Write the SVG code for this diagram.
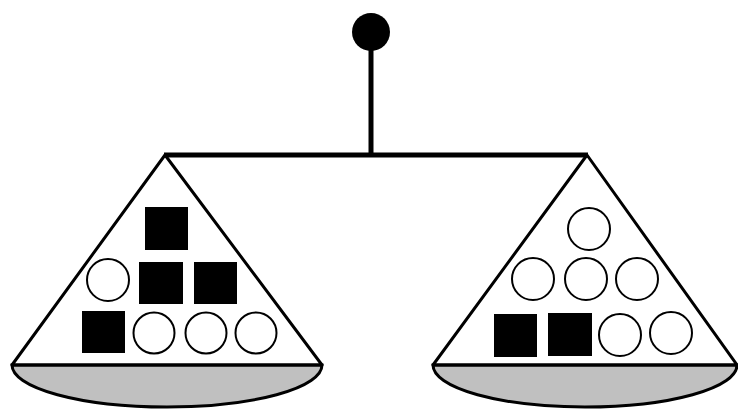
<svg xmlns="http://www.w3.org/2000/svg" width="738" height="410" viewBox="0 0 738 410">
<style>
.ln{stroke:#000;stroke-width:3;fill:none;stroke-linejoin:round}
.bowl{fill:#c0c0c0;stroke:#000;stroke-width:3}
.sq{fill:#000}
.ci{fill:#fff;stroke:#000;stroke-width:2}
</style>
<rect width="738" height="410" fill="#fff"/>
<g id="stand">
<circle cx="371" cy="32" r="19" fill="#000"/>
<line x1="371" y1="45" x2="371" y2="155" stroke="#000" stroke-width="5"/>
<line x1="164" y1="155" x2="588" y2="155" stroke="#000" stroke-width="5"/>
</g>
<g id="left-pan">
<path class="bowl" d="M12,365 A155,42 0 0 0 322,365 Z"/>
<path class="ln" d="M12,365 L165,155 L322,365 Z"/>
<rect class="sq" x="145" y="207" width="43" height="43"/>
<circle class="ci" cx="108" cy="280" r="21"/>
<rect class="sq" x="139" y="262" width="44" height="42"/>
<rect class="sq" x="194" y="262" width="43" height="42"/>
<rect class="sq" x="82" y="311" width="43" height="42"/>
<circle class="ci" cx="154" cy="333" r="20.5"/>
<circle class="ci" cx="206" cy="333" r="20.5"/>
<circle class="ci" cx="256" cy="333" r="20.5"/>
</g>
<g id="right-pan">
<path class="bowl" d="M433,365 A152,42 0 0 0 737,365 Z"/>
<path class="ln" d="M433,365 L587,155 L737,365 Z"/>
<circle class="ci" cx="589" cy="229" r="21"/>
<circle class="ci" cx="533" cy="279" r="21"/>
<circle class="ci" cx="586" cy="279" r="21"/>
<circle class="ci" cx="637" cy="279" r="21"/>
<rect class="sq" x="494" y="314" width="43" height="43"/>
<rect class="sq" x="548" y="313" width="44" height="43"/>
<circle class="ci" cx="620" cy="335" r="21"/>
<circle class="ci" cx="671" cy="333" r="21"/>
</g>
</svg>
